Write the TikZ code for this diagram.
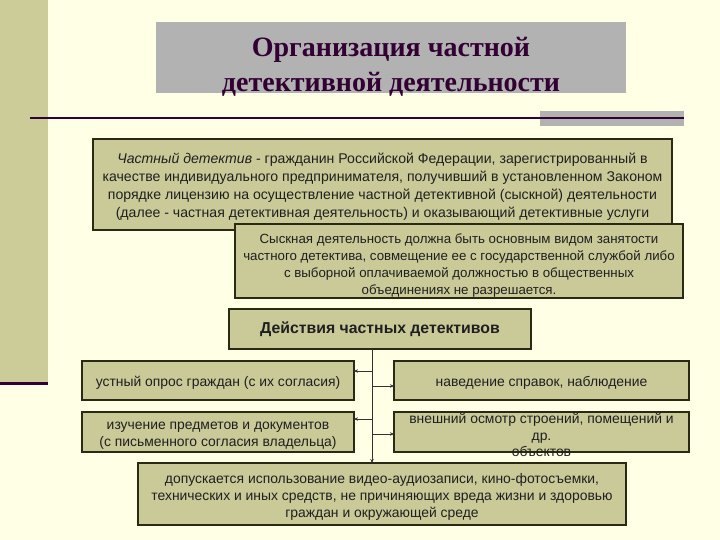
\documentclass[tikz,border=0pt]{standalone}
\usepackage{fontspec}
\setmainfont{Liberation Sans}
\newfontfamily\titlefont{Liberation Serif}
\usetikzlibrary{arrows.meta,calc}
\definecolor{bgc}{HTML}{FFFFE5}
\definecolor{stripc}{HTML}{CCCC99}
\definecolor{boxc}{HTML}{CACA99}
\definecolor{greyc}{HTML}{B2B2B2}
\definecolor{purp}{HTML}{330033}
\definecolor{edgec}{HTML}{2A2A14}
\newcommand\firstline[1]{\rule{0pt}{#1pt}}
\tikzset{
  box/.style={draw=edgec,line width=1.1pt,fill=boxc,inner sep=0pt,outer sep=0pt,
    align=center,anchor=north west,text=black!88,
    font=\fontsize{13.9}{17}\selectfont},
  conn/.style={line width=1pt,draw=black!80,-{Stealth[length=4pt,width=3.5pt]}},
}
\begin{document}
\begin{tikzpicture}[x=1pt,y=-1pt]
\fill[bgc] (0,0) rectangle (720,540);
\useasboundingbox (0,0) rectangle (720,540);
% left strip
\fill[stripc] (0,0) rectangle (48,382);
\fill[purp] (0,381.5) rectangle (48,385);
% title
\node[fill=greyc,minimum width=470,minimum height=71,anchor=north west,inner sep=0] (titlebox) at (156,22) {};
\node[text=purp,align=center,font=\titlefont\bfseries\fontsize{28}{35}\selectfont] (titletext) at (391,66.5) {Организация частной\\детективной деятельности};
% rule
\fill[greyc] (540,111) rectangle (684,126);
\draw[purp,line width=2pt] (30,118) -- (684,118);
% boxes
\node[box,minimum width=579,minimum height=91,font=\fontsize{14.1}{18}\selectfont] (def) at (93,139)
 {\firstline{15.5}\textit{Частный детектив} - гражданин Российской Федерации, зарегистрированный в\\
  качестве индивидуального предпринимателя, получивший в установленном Законом\\
  порядке лицензию на осуществление частной детективной (сыскной) деятельности\\
  (далее - частная детективная деятельность) и оказывающий детективные услуги};
\node[box,minimum width=448,minimum height=74,font=\fontsize{13.3}{17}\selectfont] (rule) at (235,224)
 {\firstline{19.5}Сыскная деятельность должна быть основным видом занятости\\
  частного детектива, совмещение ее с государственной службой либо\\
  с выборной оплачиваемой должностью в общественных\\
  объединениях не разрешается.};
\node[box,minimum width=302,minimum height=40,font=\bfseries\fontsize{15.8}{18}\selectfont] (act) at (229,309) {\firstline{13}Действия частных детективов};
\node[box,minimum width=272,minimum height=39] (l1) at (82,361) {\firstline{14.5}устный опрос граждан (с их согласия)};
\node[box,minimum width=295,minimum height=39] (r1) at (394,361) {\firstline{14.5}наведение справок, наблюдение};
\node[box,minimum width=272,minimum height=40] (l2) at (82,412) {\firstline{14.5}изучение предметов и документов\\(с письменного согласия владельца)};
\node[box,minimum width=295,minimum height=40] (r2) at (394,412) {};
\node[align=center,anchor=north,inner sep=0pt,text=black!88,font=\fontsize{13.9}{16.5}\selectfont] (r2text) at ($(r2.north)+(0,1)$)
 {внешний осмотр строений, помещений и\\др.\\объектов};
\node[box,minimum width=488,minimum height=62] (bot) at (138,463)
 {\firstline{16}допускается использование видео-аудиозаписи, кино-фотосъемки,\\
  технических и иных средств, не причиняющих вреда жизни и здоровью\\
  граждан и окружающей среде};
% connectors
\coordinate (tx) at (372,0);
\draw[conn] (act.south -| tx) -- (bot.north -| tx);
\coordinate (a1) at (372,371);
\coordinate (a2) at (372,386);
\coordinate (a3) at (372,419);
\coordinate (a4) at (372,434);
\draw[conn] (a1) -- (a1 -| l1.east);
\draw[conn] (a2) -- (a2 -| r1.west);
\draw[conn] (a3) -- (a3 -| l2.east);
\draw[conn] (a4) -- (a4 -| r2.west);
\end{tikzpicture}
\end{document}
